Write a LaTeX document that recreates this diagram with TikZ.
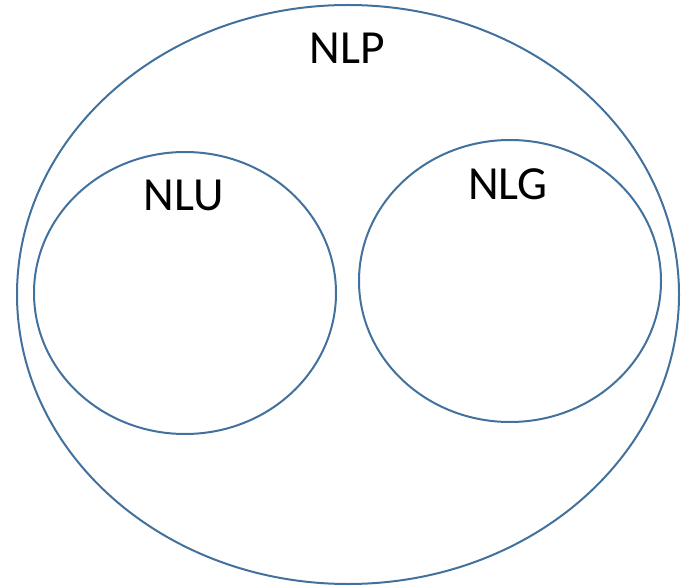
\documentclass[tikz,border=0pt]{standalone}
\usepackage{fontspec}
\setmainfont{Carlito}
\definecolor{edge}{HTML}{41719C}
\begin{document}
\begin{tikzpicture}[x=1pt,y=-1pt,
  venn/.style={draw=edge,line width=2pt},
  lbl/.style={anchor=base,inner sep=0pt,font=\fontsize{47.5}{57}\selectfont}]
\useasboundingbox (0,0) rectangle (688,588);
\draw[venn] (348,294.5) ellipse [x radius=331, y radius=289.5];
\draw[venn] (185,293) ellipse [x radius=151, y radius=141];
\draw[venn] (510,281) ellipse [x radius=151, y radius=141];
\node[lbl] (nlp) at (347,63.3) {NLP};
\node[lbl] (nlu) at (183.5,210.7) {NLU};
\node[lbl] (nlg) at (508,200) {NLG};
\end{tikzpicture}
\end{document}
